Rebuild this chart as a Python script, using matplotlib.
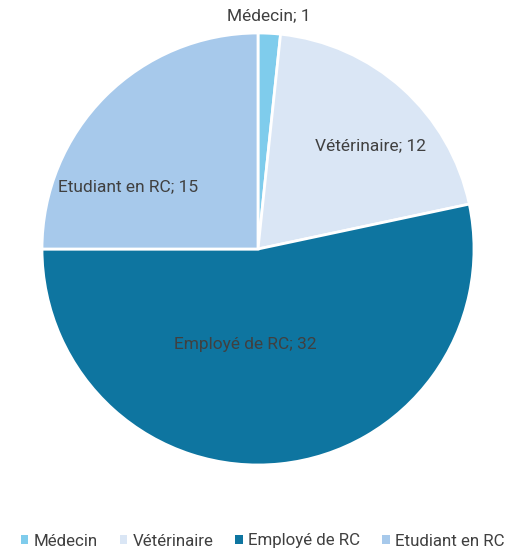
import matplotlib.pyplot as plt
from matplotlib.patches import Patch

plt.rcParams['font.family'] = ['Roboto', 'DejaVu Sans']

categories = ['Médecin', 'Vétérinaire', 'Employé de RC', 'Etudiant en RC']
counts = [1, 12, 32, 15]
colors = ['#7FCCEC', '#DAE6F5', '#0E75A0', '#A7C9EB']
# label positions in pie data units (radius 1 = edge)
label_pos = [(0.05, 1.08), (0.52, 0.48), (-0.06, -0.44), (-0.60, 0.29)]

fig = plt.figure(figsize=(5.15, 5.54), dpi=100)
ax = fig.add_axes([42/515, 89/554, 432/515, 432/554])

wedges, _ = ax.pie(counts, colors=colors, startangle=90, counterclock=False,
                   radius=1, wedgeprops=dict(edgecolor='white', linewidth=2))
ax.set_xlim(-1, 1)
ax.set_ylim(-1, 1)
ax.set_aspect('equal')

for name, n, (x, y) in zip(categories, counts, label_pos):
    ax.text(x, y, f'{name}; {n}', ha='center', va='center',
            fontsize=12.5, color='#404040', clip_on=False)

handles = [Patch(facecolor=c, edgecolor='none') for c in colors]
fig.legend(handles, categories, loc='center', bbox_to_anchor=(0.51, 13/554),
           ncol=4, frameon=False, fontsize=12.2, handlelength=0.45,
           handleheight=0.45, handletextpad=0.3, columnspacing=1.3,
           labelcolor='#404040')

plt.savefig('out.png', dpi=100)
